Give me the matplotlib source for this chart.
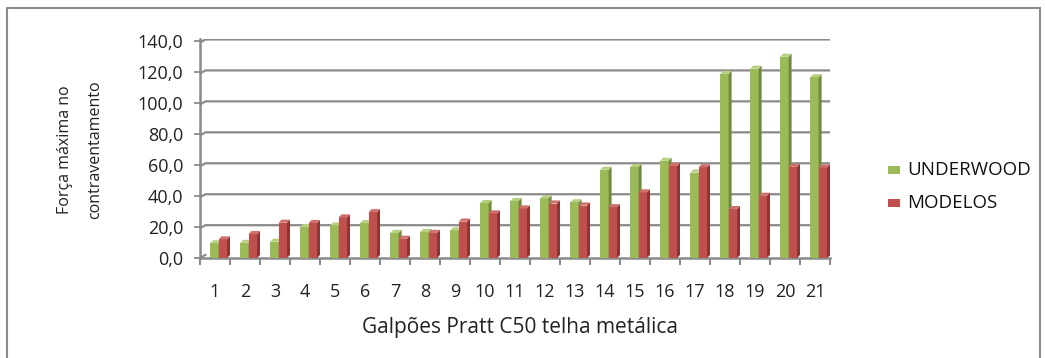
import matplotlib.pyplot as plt
from matplotlib.patches import Polygon, Rectangle
from matplotlib.lines import Line2D
import numpy as np

plt.rcParams['font.family'] = ['Open Sans', 'DejaVu Sans']

categorias = list(range(1, 22))
underwood = [9.5, 9.8, 10.5, 20.0, 21.0, 22.5, 16.2, 16.8, 17.8, 35.5, 36.8,
             38.5, 36.0, 57.0, 58.8, 62.8, 55.2, 119.0, 122.3, 130.0, 116.8]
modelos = [12.0, 15.5, 22.8, 22.6, 26.2, 29.6, 12.4, 16.2, 23.5, 28.8, 32.0,
           35.2, 33.9, 32.8, 42.4, 59.4, 58.6, 31.6, 40.2, 58.9, 58.5]
yticks = [0, 20, 40, 60, 80, 100, 120, 140]

verde = ('#9BBB59', '#71893F', '#B5D07E')
vermelho = ('#C0504D', '#8E3533', '#D0706D')

fig = plt.figure(figsize=(10.45, 3.58), dpi=100)
ax = fig.add_axes([200/1045, 100/358, 630/1045, 219/358])

larg = 0.28
dx, dy = 0.1, 2.0


def barra3d(x0, h, cores):
    x1 = x0 + larg
    ax.add_patch(Rectangle((x0, 0), larg, h, fc=cores[0], ec='none', zorder=3))
    ax.add_patch(Polygon([(x1, 0), (x1 + dx, dy), (x1 + dx, h + dy), (x1, h)],
                         fc=cores[1], ec='none', zorder=3))
    ax.add_patch(Polygon([(x0, h), (x1, h), (x1 + dx, h + dy), (x0 + dx, h + dy)],
                         fc=cores[2], ec='none', zorder=3))


for i, c in enumerate(categorias):
    barra3d(c - 0.16, underwood[i], verde)
    barra3d(c + 0.12, modelos[i], vermelho)

# paredes / grade estilo Excel 3D
cinza = '#8A8A8A'
for v in yticks[1:]:
    ax.add_line(Line2D([0.5, 0.68, 21.5], [v - 0.8, v + 1.2, v + 1.2], color=cinza, lw=1.6, zorder=1))
ax.add_line(Line2D([0.5, 0.68], [0, 2.0], color=cinza, lw=1.6, zorder=1))
ax.add_line(Line2D([21.3, 21.5], [0, 2.0], color=cinza, lw=1.2, zorder=1))

ax.set_xlim(0.5, 21.5)
ax.set_ylim(0, 141.5)
ax.set_yticks(yticks)
ax.set_yticklabels([f'{v:.1f}'.replace('.', ',') for v in yticks], fontsize=13, color='#222222')
ax.set_xticks(categorias)
ax.set_xticklabels([str(c) for c in categorias], fontsize=13, color='#222222')
ax.set_xticks(np.arange(0.5, 22, 1), minor=True)
ax.tick_params(axis='x', which='major', length=0, pad=18)
ax.tick_params(axis='x', which='minor', length=5, color=cinza, width=1.5, direction='out')
ax.tick_params(axis='y', length=4, color=cinza, width=1.3, pad=8)
for s in ['top', 'right']:
    ax.spines[s].set_visible(False)
ax.spines['left'].set_color(cinza)
ax.spines['left'].set_linewidth(1.8)
ax.spines['bottom'].set_color(cinza)
ax.spines['bottom'].set_linewidth(1.8)
ax.patch.set_alpha(0)

fig.text(520/1045, 1 - 328/358, 'Galpões Pratt C50 telha metálica', ha='center', va='center',
         fontsize=15, color='#222222')
fig.text(65/1045, 1 - 150/358, 'Força máxima no', ha='center', va='center',
         rotation=90, fontsize=11.5, color='#222222')
fig.text(95/1045, 1 - 150/358, 'contraventamento', ha='center', va='center',
         rotation=90, fontsize=11.5, color='#222222')

# legenda
for y, cor, nome in [(170, verde[0], 'UNDERWOOD'), (203, vermelho[0], 'MODELOS')]:
    fig.patches.append(Rectangle((888/1045, 1 - (y + 4)/358), 12/1045, 8/358,
                                 transform=fig.transFigure, fc=cor, ec='none'))
    fig.text(907/1045, 1 - y/358, nome, ha='left', va='center', fontsize=13.5,
             color='#111111')

# moldura
fig.patches.append(Rectangle((7/1045, -0.05), 1033/1045, 1.05 - 8/358, transform=fig.transFigure,
                             fill=False, ec='#8C8C8C', lw=1.5))

fig.savefig('out.png', dpi=100)
